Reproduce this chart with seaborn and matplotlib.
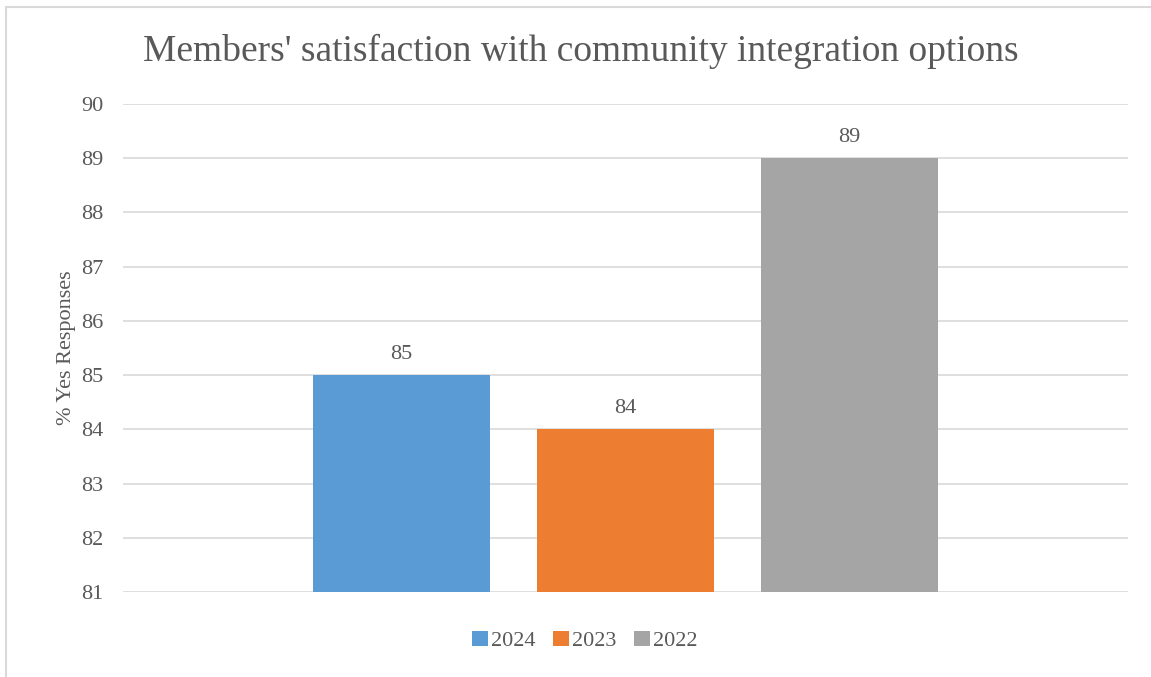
import matplotlib
matplotlib.use("Agg")
import matplotlib.pyplot as plt
from matplotlib.patches import Rectangle, Patch
import seaborn as sns
import pandas as pd

years = ["2024", "2023", "2022"]
values = [85, 84, 89]
colors = ["#5B9BD5", "#ED7D31", "#A5A5A5"]
yticks = [81, 82, 83, 84, 85, 86, 87, 88, 89, 90]
title = "Members' satisfaction with community integration options"
ylabel = "% Yes Responses"

sns.set_theme(style="white")
plt.rcParams['font.family'] = ['Liberation Serif', 'DejaVu Serif']
text_color = "#595959"

df = pd.DataFrame({"year": years, "value": values})

fig = plt.figure(figsize=(11.51, 6.77), dpi=100)
ax = fig.add_axes([123/1151, 1-592/677, (1128-123)/1151, (592-104)/677])

sns.barplot(data=df, x="year", y="value", hue="year", order=years, hue_order=years,
            palette=colors, width=0.786, dodge=False, legend=False, ax=ax,
            saturation=1, linewidth=0, edgecolor="none")

ax.set_ylim(81, 90)
ax.set_xlim(1 - 2.243, 1 + 2.243)
ax.set_yticks(yticks)
ax.set_yticklabels([str(t) for t in yticks], fontsize=16, color=text_color)
ax.tick_params(axis="y", length=0, pad=14)
ax.set_xticks([])
ax.set_xlabel("")
ax.set_ylabel(ylabel, fontsize=16, color=text_color, labelpad=4)
ax.yaxis.grid(True, color="#D9D9D9", linewidth=1.2)
ax.set_axisbelow(True)
for s in ax.spines.values():
    s.set_visible(False)

for container in ax.containers:
    ax.bar_label(container, fmt="%d", padding=8, fontsize=16, color=text_color)

fig.text(581/1151, 1-51/677, title, ha="center", va="center", fontsize=27, color=text_color)

handles = [Patch(facecolor=c, edgecolor="none", label=y) for y, c in zip(years, colors)]
fig.legend(handles=handles, loc="center", bbox_to_anchor=(585/1151, 1-641/677), ncol=3,
           frameon=False, fontsize=16, labelcolor=text_color, handlelength=0.7,
           handleheight=0.7, handletextpad=0.15, columnspacing=0.8)

fig.patches.append(Rectangle((6/1151, -0.1), 1.2, 1-7/677+0.1, transform=fig.transFigure,
                             fill=False, edgecolor="#D9D9D9", linewidth=1.5, zorder=10))

fig.savefig("out.png", dpi=100)
